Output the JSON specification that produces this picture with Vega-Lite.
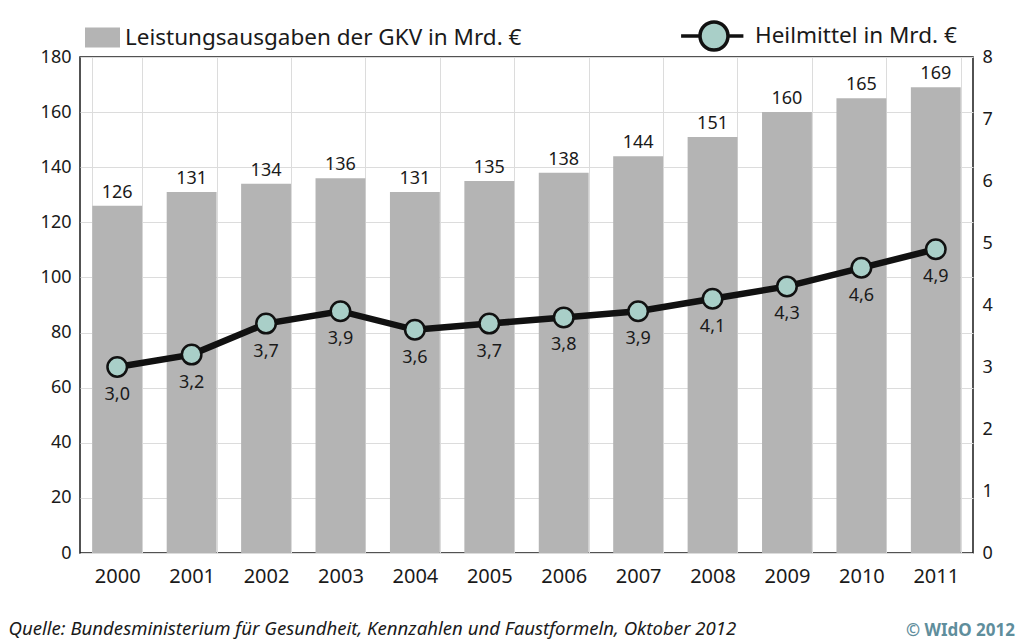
{
  "$schema": "https://vega.github.io/schema/vega-lite/v6.json",
  "width": 893,
  "height": 496,
  "autosize": "none",
  "padding": {"left": 80, "top": 57, "right": 51, "bottom": 89},
  "background": "white",
  "config": {
    "font": "Noto Sans",
    "locale": {"number": {"decimal": ",", "thousands": ".", "grouping": [3], "currency": ["", " €"]}},
    "view": {"stroke": "#1a1a1a", "strokeWidth": 1.5},
    "axis": {"labelFont": "Noto Sans", "labelColor": "#1a1a1a", "ticks": false, "domain": false, "gridColor": "#dcdcdc", "gridWidth": 1},
    "legend": {"labelFont": "Noto Sans", "labelFontSize": 22.5, "labelColor": "#1a1a1a", "labelLimit": 0, "padding": 0, "titlePadding": 0}
  },
  "title": {
    "text": "© WIdO 2012",
    "orient": "bottom",
    "anchor": "end",
    "frame": "group",
    "dx": 42,
    "offset": -15,
    "font": "Noto Sans",
    "fontSize": 17,
    "fontWeight": "bold",
    "color": "#5f8e9c"
  },
  "data": {
    "values": [
      {"Jahr": "2000", "GKV": 126, "Heilmittel": 3.0},
      {"Jahr": "2001", "GKV": 131, "Heilmittel": 3.2},
      {"Jahr": "2002", "GKV": 134, "Heilmittel": 3.7},
      {"Jahr": "2003", "GKV": 136, "Heilmittel": 3.9},
      {"Jahr": "2004", "GKV": 131, "Heilmittel": 3.6},
      {"Jahr": "2005", "GKV": 135, "Heilmittel": 3.7},
      {"Jahr": "2006", "GKV": 138, "Heilmittel": 3.8},
      {"Jahr": "2007", "GKV": 144, "Heilmittel": 3.9},
      {"Jahr": "2008", "GKV": 151, "Heilmittel": 4.1},
      {"Jahr": "2009", "GKV": 160, "Heilmittel": 4.3},
      {"Jahr": "2010", "GKV": 165, "Heilmittel": 4.6},
      {"Jahr": "2011", "GKV": 169, "Heilmittel": 4.9}
    ]
  },
  "encoding": {
    "x": {
      "field": "Jahr",
      "type": "nominal",
      "scale": {"paddingInner": 0.33, "paddingOuter": 0.165},
      "axis": {
        "labelAngle": 0,
        "labelFontSize": 20,
        "labelPadding": 13,
        "grid": true,
        "tickBand": "extent",
        "title": "Quelle: Bundesministerium für Gesundheit, Kennzahlen und Faustformeln, Oktober 2012",
        "titleFont": "Noto Sans",
        "titleFontSize": 18.6,
        "titleFontStyle": "italic",
        "titleFontWeight": "normal",
        "titleColor": "#1a1a1a",
        "titleAnchor": "start",
        "titleAlign": "left",
        "titleBaseline": "middle",
        "titleX": -72,
        "titleY": 75
      }
    }
  },
  "layer": [
    {
      "encoding": {
        "y": {
          "field": "GKV",
          "type": "quantitative",
          "scale": {"domain": [0, 180], "nice": false},
          "axis": {"orient": "left", "values": [0, 20, 40, 60, 80, 100, 120, 140, 160, 180], "labelFontSize": 18, "labelPadding": 9, "grid": true, "title": null}
        }
      },
      "layer": [
        {
          "mark": {"type": "bar"},
          "encoding": {
            "color": {
              "datum": "Leistungsausgaben der GKV in Mrd. €",
              "type": "nominal",
              "scale": {"range": ["#b4b4b4"]},
              "legend": {
                "title": null,
                "orient": "none",
                "legendX": 5,
                "legendY": -37,
                "symbolType": "M-1,-0.57H1V0.57H-1Z",
                "symbolSize": 1225,
                "symbolStrokeWidth": 0,
                "labelOffset": 5
              }
            }
          }
        },
        {
          "mark": {"type": "text", "baseline": "alphabetic", "dy": -8, "fontSize": 18, "color": "#1a1a1a"},
          "encoding": {"text": {"field": "GKV", "type": "quantitative"}}
        }
      ]
    },
    {
      "encoding": {
        "y": {
          "field": "Heilmittel",
          "type": "quantitative",
          "scale": {"domain": [0, 8], "nice": false},
          "axis": {"orient": "right", "values": [0, 1, 2, 3, 4, 5, 6, 7, 8], "labelFontSize": 18, "labelPadding": 9, "grid": false, "title": null}
        }
      },
      "layer": [
        {
          "mark": {"type": "line", "color": "#111111", "strokeWidth": 6.5}
        },
        {
          "mark": {"type": "point", "filled": true, "size": 380, "stroke": "#111111", "strokeWidth": 2.5, "opacity": 1},
          "encoding": {
            "fill": {
              "datum": "Heilmittel in Mrd. €",
              "type": "nominal",
              "scale": {"range": ["#a9cfc8"]},
              "legend": {
                "title": null,
                "orient": "none",
                "legendX": 618,
                "legendY": -37,
                "symbolType": "M-2.35,0H-1M1,0H2.1M1,0A1,1,0,1,1,-1,0A1,1,0,1,1,1,0Z",
                "symbolSize": 784,
                "symbolStrokeColor": "#111111",
                "symbolStrokeWidth": 3.5,
                "symbolOpacity": 1,
                "labelOffset": 25,
                "encode": {"symbols": {"update": {"stroke": {"value": "#111111"}, "strokeWidth": {"value": 3.5}, "fill": {"value": "#a9cfc8"}, "opacity": {"value": 1}}}}
              }
            }
          }
        },
        {
          "mark": {"type": "text", "baseline": "middle", "dy": 28, "fontSize": 18, "color": "#1a1a1a"},
          "encoding": {"text": {"field": "Heilmittel", "type": "quantitative", "format": ".1f"}}
        }
      ]
    }
  ],
  "resolve": {"scale": {"y": "independent"}}
}
